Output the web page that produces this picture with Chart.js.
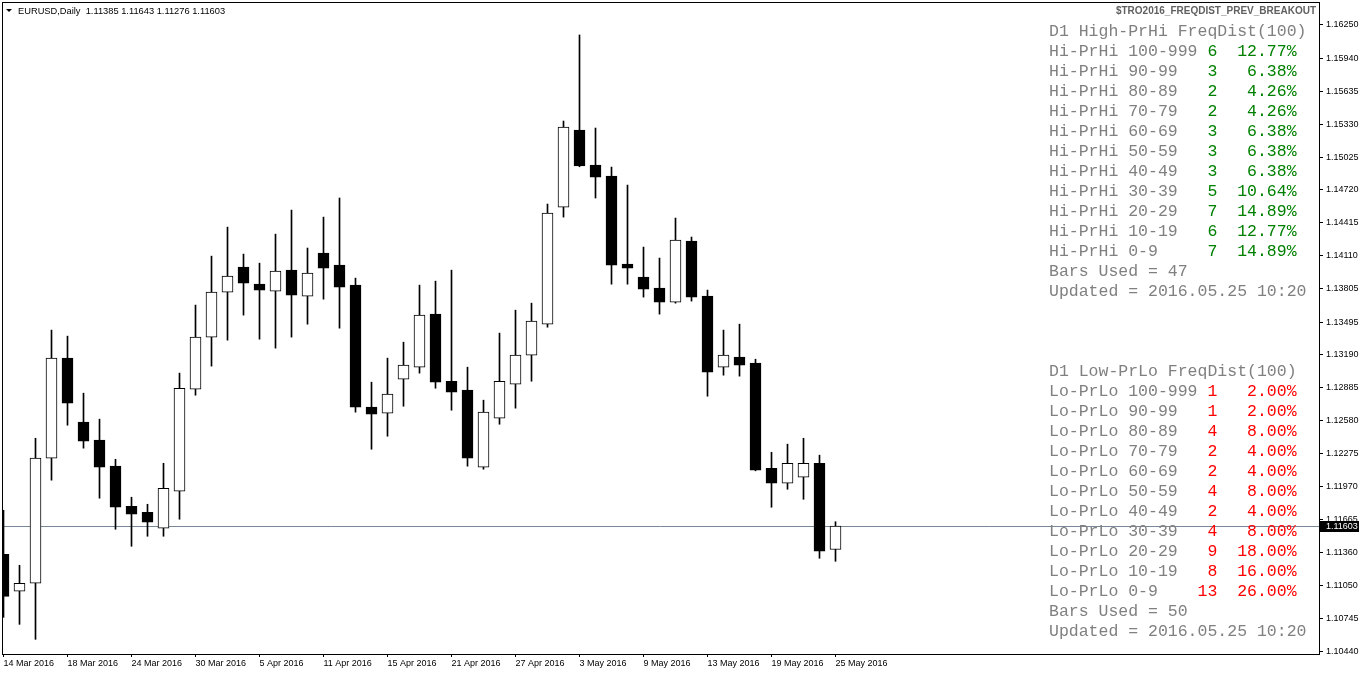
<!DOCTYPE html>
<html><head><meta charset="utf-8">
<script src="https://cdn.jsdelivr.net/npm/chart.js@4/dist/chart.umd.min.js"></script>
<style>html,body{margin:0;padding:0;background:#fff;overflow:hidden}#wrap{width:1362px;height:675px;position:relative;background:#fff}</style>
</head><body><div id="wrap"><canvas id="c" width="1362" height="675"></canvas></div>
<script>
// ---- data ----
const symbolTitle = "EURUSD,Daily";
const indicatorName = "$TRO2016_FREQDIST_PREV_BREAKOUT";
const dates = ["14 Mar 2016","15 Mar 2016","16 Mar 2016","17 Mar 2016","18 Mar 2016","21 Mar 2016","22 Mar 2016","23 Mar 2016","24 Mar 2016","25 Mar 2016","28 Mar 2016","29 Mar 2016","30 Mar 2016","31 Mar 2016","1 Apr 2016","4 Apr 2016","5 Apr 2016","6 Apr 2016","7 Apr 2016","8 Apr 2016","11 Apr 2016","12 Apr 2016","13 Apr 2016","14 Apr 2016","15 Apr 2016","18 Apr 2016","19 Apr 2016","20 Apr 2016","21 Apr 2016","22 Apr 2016","25 Apr 2016","26 Apr 2016","27 Apr 2016","28 Apr 2016","29 Apr 2016","2 May 2016","3 May 2016","4 May 2016","5 May 2016","6 May 2016","9 May 2016","10 May 2016","11 May 2016","12 May 2016","13 May 2016","16 May 2016","17 May 2016","18 May 2016","19 May 2016","20 May 2016","23 May 2016","24 May 2016","25 May 2016"];
const open  = [1.11341,1.10998,1.11072,1.12232,1.13160,1.12566,1.12399,1.12158,1.11786,1.11731,1.11582,1.11926,1.12872,1.13355,1.13772,1.14004,1.13846,1.13782,1.13976,1.13735,1.14134,1.14023,1.13837,1.12705,1.12649,1.12965,1.13076,1.13568,1.12946,1.12863,1.12148,1.12603,1.12918,1.13188,1.13475,1.14561,1.15276,1.14951,1.14849,1.14032,1.13911,1.13809,1.13679,1.14246,1.13735,1.13076,1.13169,1.13113,1.12139,1.12000,1.12055,1.12185,1.11385];
const high  = [1.11749,1.11239,1.12417,1.13420,1.13364,1.12835,1.12594,1.12222,1.11870,1.11805,1.12185,1.13021,1.13652,1.14106,1.14375,1.14125,1.14041,1.14310,1.14533,1.14181,1.14468,1.14645,1.13902,1.12937,1.13160,1.13308,1.13837,1.13874,1.13976,1.13076,1.12770,1.13392,1.13605,1.13670,1.14589,1.15359,1.16157,1.15294,1.14932,1.14765,1.14190,1.14088,1.14459,1.14283,1.13791,1.13420,1.13475,1.13150,1.12287,1.12362,1.12417,1.12260,1.11643];
const low   = [1.10756,1.10691,1.10552,1.12028,1.12538,1.12325,1.11861,1.11573,1.11415,1.11508,1.11508,1.11666,1.12816,1.13086,1.13327,1.13559,1.13336,1.13253,1.13355,1.13475,1.13707,1.13438,1.12659,1.12315,1.12436,1.12714,1.13021,1.12881,1.12677,1.12158,1.12130,1.12547,1.12696,1.12946,1.13447,1.14468,1.14935,1.14645,1.13846,1.13846,1.13726,1.13568,1.13670,1.13689,1.12807,1.13002,1.12993,1.12115,1.11777,1.11944,1.11851,1.11304,1.11276];
const close = [1.10951,1.11072,1.12232,1.13160,1.12742,1.12390,1.12148,1.11777,1.11712,1.11638,1.11953,1.12881,1.13355,1.13772,1.13921,1.13856,1.13791,1.13967,1.13744,1.13949,1.13995,1.13819,1.12705,1.12640,1.12826,1.13095,1.13559,1.12937,1.12844,1.12232,1.12659,1.12946,1.13188,1.13503,1.14505,1.15303,1.14942,1.14839,1.14023,1.13995,1.13800,1.13679,1.14255,1.13726,1.13030,1.13188,1.13095,1.12120,1.12000,1.12185,1.12185,1.11369,1.11603];
const xTickLabels = ["14 Mar 2016","18 Mar 2016","24 Mar 2016","30 Mar 2016","5 Apr 2016","11 Apr 2016","15 Apr 2016","21 Apr 2016","27 Apr 2016","3 May 2016","9 May 2016","13 May 2016","19 May 2016","25 May 2016"];
const yTicks = [1.16250,1.15940,1.15635,1.15330,1.15025,1.14720,1.14415,1.14110,1.13805,1.13495,1.13190,1.12885,1.12580,1.12275,1.11970,1.11665,1.11360,1.11050,1.10745,1.10440];

const hiTitle = "D1 High-PrHi FreqDist(100)";
const loTitle = "D1 Low-PrLo FreqDist(100)";
const ranges = ["100-999","90-99","80-89","70-79","60-69","50-59","40-49","30-39","20-29","10-19","0-9"];
const hiCounts = [6,3,2,2,3,3,3,5,7,6,7];
const hiPcts = [12.77,6.38,4.26,4.26,6.38,6.38,6.38,10.64,14.89,12.77,14.89];
const loCounts = [1,1,4,2,2,4,2,4,9,8,13];
const loPcts = [2.00,2.00,8.00,4.00,4.00,8.00,4.00,8.00,18.00,16.00,26.00];
const hiBarsUsed = 47, loBarsUsed = 50;
const updated = "2016.05.25 10:20";

// ---- chart ----
const last = dates.length - 1;
const xTickIdx = xTickLabels.map(l => dates.indexOf(l));
const bodies = dates.map((d, i) => ({x: i, y: [open[i], close[i]]}));
const wicks = dates.map((d, i) => ({x: i, y: [low[i], high[i]]}));
const bodyColors = dates.map((d, i) => close[i] >= open[i] ? '#ffffff' : '#000000');

const SANS = "'Liberation Sans', Arial, sans-serif";
const MONO = "'Liberation Mono', 'Courier New', monospace";

const overlay = {
  id: 'overlay',
  beforeDatasetsDraw(chart) {
    const {ctx, chartArea: a, scales: {y}} = chart;
    const py = Math.round(y.getPixelForValue(close[last])) + 0.5;
    ctx.save();
    ctx.strokeStyle = '#778899';
    ctx.lineWidth = 1;
    ctx.beginPath(); ctx.moveTo(a.left, py); ctx.lineTo(a.right, py); ctx.stroke();
    ctx.restore();
  },
  afterDraw(chart) {
    const {ctx, chartArea: a, scales: {y}} = chart;
    ctx.save();
    // frame
    ctx.strokeStyle = '#000'; ctx.lineWidth = 1;
    ctx.strokeRect(a.left + 0.5, a.top + 0.5, a.right - a.left, a.bottom - a.top);
    // header
    ctx.fillStyle = '#000';
    ctx.beginPath(); ctx.moveTo(6, 9); ctx.lineTo(12, 9); ctx.lineTo(9, 12); ctx.closePath(); ctx.fill();
    ctx.font = '9.3px ' + SANS; ctx.textBaseline = 'middle'; ctx.textAlign = 'left';
    ctx.fillText(symbolTitle + '  ' + [open[last], high[last], low[last], close[last]].map(v => v.toFixed(5)).join(' '), 18, 11);
    ctx.font = 'bold 10px ' + SANS; ctx.textAlign = 'right'; ctx.fillStyle = '#606060';
    ctx.fillText(indicatorName, 1316, 11);
    // tables
    ctx.font = '16.5px ' + MONO; ctx.textBaseline = 'middle';
    const cw = ctx.measureText('0').width;
    const x0 = 1049;
    function table(y0, title, prefix, counts, pcts, barsUsed, color) {
      ctx.textAlign = 'left'; ctx.fillStyle = '#808080';
      ctx.fillText(title, x0, y0);
      ranges.forEach((r, k) => {
        const yy = y0 + 20 * (k + 1);
        ctx.textAlign = 'left'; ctx.fillStyle = '#808080';
        ctx.fillText(prefix + ' ' + r, x0, yy);
        ctx.textAlign = 'right'; ctx.fillStyle = color;
        ctx.fillText(String(counts[k]), x0 + 17 * cw, yy);
        ctx.fillText(pcts[k].toFixed(2) + '%', x0 + 25 * cw, yy);
      });
      ctx.textAlign = 'left'; ctx.fillStyle = '#808080';
      ctx.fillText('Bars Used = ' + barsUsed, x0, y0 + 20 * 12);
      ctx.fillText('Updated = ' + updated, x0, y0 + 20 * 13);
    }
    table(32, hiTitle, 'Hi-PrHi', hiCounts, hiPcts, hiBarsUsed, '#008000');
    table(372, loTitle, 'Lo-PrLo', loCounts, loPcts, loBarsUsed, '#ff0000');
    // current price label
    const py = Math.round(y.getPixelForValue(close[last]));
    ctx.fillStyle = '#000';
    ctx.fillRect(a.right + 1, py - 5, 39, 11);
    ctx.fillStyle = '#fff'; ctx.font = '9px ' + SANS; ctx.textAlign = 'left'; ctx.textBaseline = 'middle';
    ctx.fillText(close[last].toFixed(5), a.right + 7, py + 0.5);
    ctx.restore();
  }
};

new Chart(document.getElementById('c').getContext('2d'), {
  type: 'bar',
  data: {
    datasets: [
      {label: 'body', data: bodies, order: 0, grouped: false, barThickness: 11, borderWidth: 1, borderSkipped: false,
       borderColor: '#000000', backgroundColor: bodyColors},
      {label: 'wick', data: wicks, order: 1, grouped: false, barThickness: 1, borderWidth: 0, backgroundColor: '#000000'}
    ]
  },
  options: {
    responsive: false, animation: false, devicePixelRatio: 1,
    layout: {padding: {left: 2, top: 2, right: 0, bottom: 0}},
    plugins: {legend: {display: false}, tooltip: {enabled: false}, title: {display: false}},
    scales: {
      x: {
        type: 'linear', position: 'bottom', offset: false, min: -0.09375, max: 82.21875,
        afterFit(s) { s.height = 21; s.paddingLeft = 0; s.paddingRight = 0; },
        afterBuildTicks(s) { s.ticks = xTickIdx.map(v => ({value: v})); },
        grid: {offset: false, drawOnChartArea: false, drawTicks: true, tickLength: 3, color: '#000', lineWidth: 1},
        border: {display: false},
        ticks: {align: 'start', maxRotation: 0, minRotation: 0, autoSkip: false, padding: 1, color: '#000',
                font: {family: SANS, size: 9}, callback: v => dates[v]}
      },
      y: {
        type: 'linear', position: 'right', min: 1.10416, max: 1.16463,
        afterFit(s) { s.width = 43; s.paddingTop = 0; s.paddingBottom = 0; },
        afterBuildTicks(s) { s.ticks = yTicks.map(v => ({value: v})); },
        grid: {drawOnChartArea: false, drawTicks: true, tickLength: 4, color: '#000', lineWidth: 1},
        border: {display: false},
        ticks: {autoSkip: false, padding: 3, color: '#000', font: {family: SANS, size: 9}, callback: v => v.toFixed(5)}
      }
    }
  },
  plugins: [overlay]
});
</script></body></html>
